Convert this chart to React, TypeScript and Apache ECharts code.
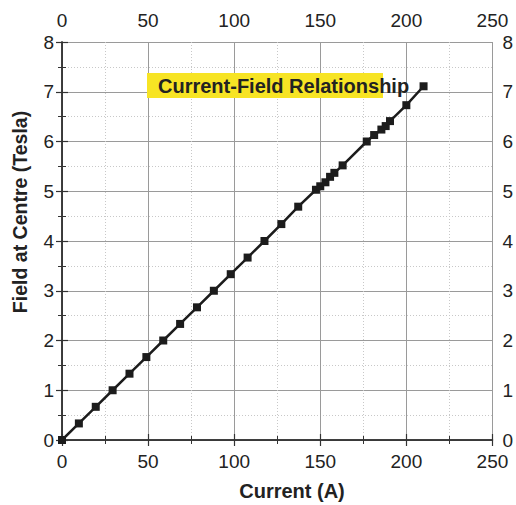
import React, { useEffect, useRef } from "react";
import * as echarts from "echarts";

const currentA = [0, 9.8, 19.6, 29.4, 39.2, 49, 58.8, 68.6, 78.4, 88.2, 98, 107.8, 117.6, 127.4, 137.2, 147.5, 150, 153, 155.7, 158.2, 163, 177, 181.3, 185.5, 188, 190.5, 200, 210];
const fieldT = [0, 0.333, 0.667, 1.0, 1.333, 1.667, 2.0, 2.333, 2.667, 3.0, 3.333, 3.667, 4.0, 4.34, 4.69, 5.03, 5.1, 5.18, 5.29, 5.37, 5.52, 6.0, 6.13, 6.24, 6.31, 6.41, 6.73, 7.11];
const titleText = "Current-Field Relationship";
const xName = "Current (A)";
const yName = "Field at Centre (Tesla)";

const FONT = "'Liberation Sans', Arial, Helvetica, sans-serif";

export default function App() {
  const ref = useRef<HTMLDivElement>(null);
  useEffect(() => {
    if (!ref.current) return;
    const chart = echarts.init(ref.current, undefined, { renderer: "svg" });
    const axisLine = { show: true, lineStyle: { color: "#333", width: 1.5 } };
    const tick = { show: true, length: 6, lineStyle: { color: "#333", width: 1.2 } };
    const minorTick = { show: true, splitNumber: 2, length: 4, lineStyle: { color: "#333", width: 1 } };
    const label = { color: "#222", fontSize: 19, fontFamily: FONT };
    chart.setOption({
      animation: false,
      grid: { left: 62, right: 20, top: 42, bottom: 65, containLabel: false },
      xAxis: [
        {
          type: "value", position: "bottom", min: 0, max: 250, interval: 50,
          axisLine, axisTick: tick, minorTick,
          axisLabel: { ...label, margin: 12 },
          splitLine: { show: true, lineStyle: { color: "#9a9a9a", width: 1 } },
          minorSplitLine: { show: true, lineStyle: { color: "#c8c8c8", width: 1, type: [1, 2] } },
        },
        {
          type: "value", position: "top", min: 0, max: 250, interval: 50,
          axisLine, axisTick: tick, minorTick,
          axisLabel: { ...label, margin: 12 },
          splitLine: { show: false }, minorSplitLine: { show: false },
        },
      ],
      yAxis: [
        {
          type: "value", position: "left", min: 0, max: 8, interval: 1,
          axisLine, axisTick: tick, minorTick,
          axisLabel: { ...label, margin: 8 },
          splitLine: { show: true, lineStyle: { color: "#9a9a9a", width: 1 } },
          minorSplitLine: { show: true, lineStyle: { color: "#c8c8c8", width: 1, type: [1, 2] } },
        },
        {
          type: "value", position: "right", min: 0, max: 8, interval: 1,
          axisLine, axisTick: tick, minorTick,
          axisLabel: { ...label, margin: 10 },
          splitLine: { show: false }, minorSplitLine: { show: false },
        },
      ],
      series: [
        {
          type: "line",
          xAxisIndex: 0,
          yAxisIndex: 0,
          data: currentA.map((x, i) => [x, fieldT[i]]),
          symbol: "rect",
          symbolSize: 8,
          itemStyle: { color: "#1c1c1c" },
          lineStyle: { color: "#1c1c1c", width: 2.5 },
          z: 5,
        },
      ],
      graphic: [
        { type: "rect", shape: { x: 147, y: 73, width: 236, height: 25 }, style: { fill: "#f7e424" }, z: 10 },
        {
          type: "text", x: 158, y: 86, z: 11,
          style: { text: titleText, font: `bold 20px ${FONT}`, fill: "#222", textVerticalAlign: "middle", textAlign: "left" },
        },
        {
          type: "text", x: 292, y: 491, z: 11,
          style: { text: xName, font: `bold 20px ${FONT}`, fill: "#222", textAlign: "center", textVerticalAlign: "middle" },
        },
        {
          type: "text", x: 20, y: 212, rotation: Math.PI / 2, z: 11,
          style: { text: yName, font: `bold 19.5px ${FONT}`, fill: "#222", textAlign: "center", textVerticalAlign: "middle" },
        },
      ],
    });
    return () => chart.dispose();
  }, []);
  return <div ref={ref} style={{ width: 516, height: 505, position: "absolute", left: 0, top: 0 }} />;
}
